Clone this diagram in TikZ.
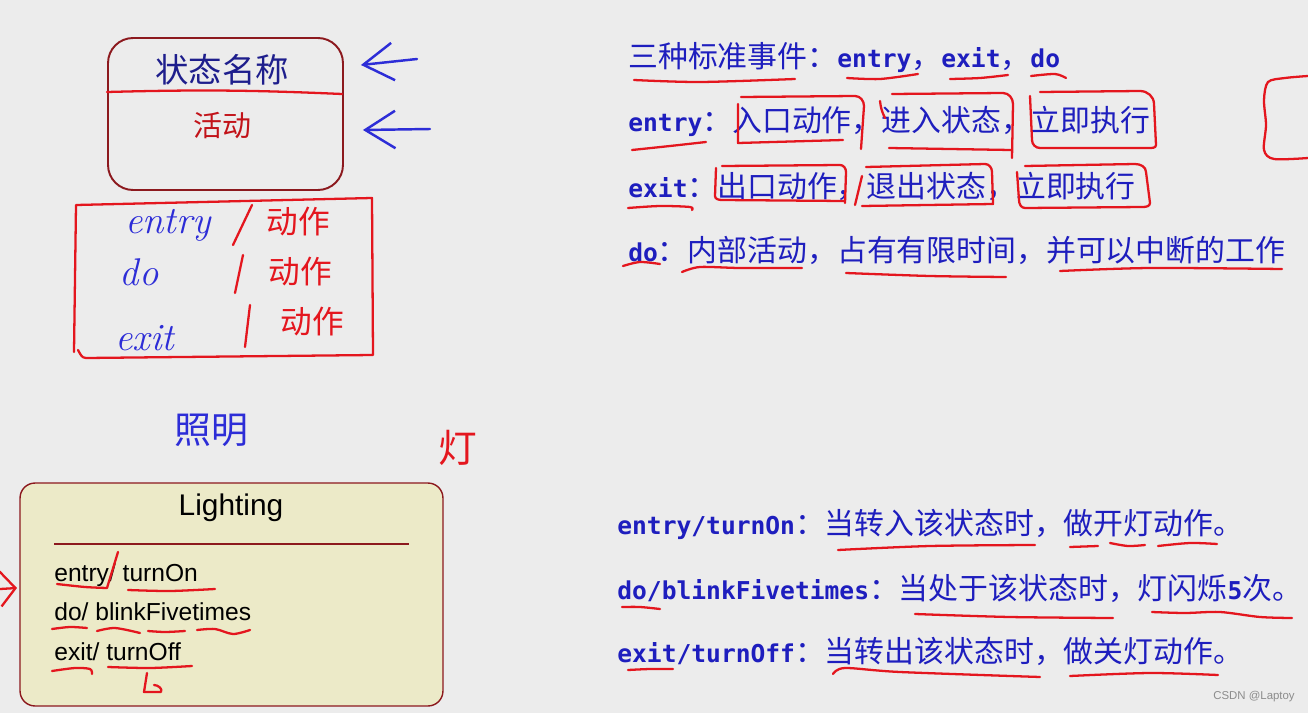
\documentclass[tikz,border=0pt]{standalone}
\usepackage{fontspec}
\usepackage{xcolor}
\usepackage{tikz}
\usetikzlibrary{arrows.meta,positioning,calc}
\newfontfamily\cjk{Noto Sans CJK SC}
\newfontfamily\kwfont{DejaVu Sans Mono}
\newfontfamily\uifont{Liberation Sans}
\definecolor{bg}{RGB}{236,236,236}
\definecolor{inkblue}{RGB}{30,30,190}
\definecolor{navy}{RGB}{30,30,140}
\definecolor{penred}{RGB}{228,22,30}
\definecolor{penblue}{RGB}{45,45,215}
\definecolor{boxred}{RGB}{140,25,30}
\definecolor{litefill}{RGB}{236,234,200}
\newcommand{\kw}[1]{{\kwfont\bfseries\fontsize{14}{16}\selectfont #1}}

\begin{document}
\begin{tikzpicture}[
  x=0.02cm, y=-0.02cm,
  say/.style={anchor=base west,inner sep=0pt,text=inkblue,
              font=\cjk\fontsize{17}{20}\selectfont},
  statebox/.style={draw=boxred,line width=1.1pt,rounded corners=0.5cm,
                   minimum width=4.7cm,minimum height=3.04cm,inner sep=0pt},
  litebox/.style={draw=boxred,line width=0.8pt,fill=litefill,rounded corners=0.3cm,
                  minimum width=8.46cm,minimum height=4.46cm,inner sep=0pt},
  lite/.style={anchor=base west,inner sep=0pt,font=\uifont\fontsize{14}{16}\selectfont},
  hand/.style={inner sep=0pt,text=penblue,font=\itshape\fontsize{22}{24}\selectfont},
  handcn/.style={inner sep=0pt,text=penred,font=\cjk\fontsize{18}{20}\selectfont},
  pen/.style={draw=penred,line width=1.3pt,line cap=round,line join=round},
  bluepen/.style={draw=penblue,line width=1.4pt,line cap=round,
                  -{Straight Barb[length=6mm,width=7.5mm]}}
]
\fill[bg] (0,0) rectangle (1308,713);
\useasboundingbox (0,0) rectangle (1308,713);

% state symbol
\node[statebox] (state) at (225.5,114) {};
\node[inner sep=0pt,text=navy,font=\cjk\fontsize{19}{21}\selectfont] (title) at (222,70) {状态名称};
\node[inner sep=0pt,text=penred!85!black,font=\cjk\fontsize{16.5}{18}\selectfont] (act) at (222,126) {活动};
\draw[pen] (107,92) to[bend left=2] (342,94);
\coordinate (tailA) at (417,59);
\coordinate (tailB) at (430,129);
\draw[bluepen] (tailA) -- ($(title.east -| state.east)+(17,-5)$);
\draw[bluepen] (tailB) -- ($(act.east -| state.east)+(19,4)$);

% handwritten notes
\draw[pen] (74,352) -- (76,205) -- (372,198) -- (373,355) -- (86,358) to[out=180,in=-60] (78,350);
\node[hand] (hEn) at (168,225) {entry};
\node[hand] (hDo) at (139,272) {do};
\node[hand] (hEx) at (145,338) {exit};
\draw[pen] (233,245) -- (252,205);
\draw[pen] (235,293) -- (243,255);
\draw[pen] (245,347) -- (250,305);
\node[handcn] (hA1) at (298,222) {动作};
\node[handcn] (hA2) at (300,272) {动作};
\node[handcn] (hA3) at (312,322) {动作};
\node[hand,font=\cjk\fontsize{21}{24}\selectfont] (zm) at (211,430) {照明};
\node[handcn,font=\cjk\fontsize{22}{24}\selectfont] (deng) at (458,448) {灯};

% Lighting state
\node[litebox] (light) at (231.5,594.5) {};
\node[anchor=base,inner sep=0pt,font=\uifont\fontsize{17}{20}\selectfont] (lname) at (231,515) {Lighting};
\draw[boxred,line width=0.6pt] (54,544) -- (409,544);
\node[lite] (lOn) at (54,581) {entry/ turnOn};
\node[lite] (lDo) at (54,620) {do/ blinkFivetimes};
\node[lite] (lOff) at (54,660) {exit/ turnOff};
\draw[pen,-{Straight Barb[length=3mm,width=7mm]}] (0,589) -- (17,588);
\draw[pen] plot[smooth] coordinates {(57,584) (85,587) (107,588)} -- (118,552);
\draw[pen] plot[smooth] coordinates {(128,590) (170,591) (215,589)};
\draw[pen] plot[smooth] coordinates {(52,629) (70,627) (87,628)};
\draw[pen] plot[smooth] coordinates {(97,631) (115,628) (140,633)};
\draw[pen] plot[smooth] coordinates {(148,631) (165,632) (185,631)};
\draw[pen] plot[smooth] coordinates {(197,630) (215,629) (233,634) (250,630)};
\draw[pen] plot[smooth] coordinates {(52,671) (75,668) (90,669) (92,674)};
\draw[pen] plot[smooth] coordinates {(108,667) (150,668) (192,666)};
\draw[pen] (147,673) -- (144,692) -- (161,692) to[out=60,in=0] (154,685);

% standard events
\node[say] (ev) at (628,68) {三种标准事件：\kw{entry}，\kw{exit}，\kw{do}};
\node[say] (en) at (628,132) {\kw{entry}：入口动作，进入状态，立即执行};
\node[say] (ex) at (628,197) {\kw{exit}：出口动作，退出状态，立即执行};
\node[say] (dd) at (628,261) {\kw{do}：内部活动，占有有限时间，并可以中断的工作};
\draw[pen] plot[smooth] coordinates {(634,80) (700,82) (795,79)};
\draw[pen] plot[smooth] coordinates {(847,78) (880,79) (918,74)};
\draw[pen] plot[smooth] coordinates {(950,79) (980,78) (1008,75)};
\draw[pen] plot[smooth] coordinates {(1031,76) (1055,74) (1066,78)};
\draw[pen] plot[smooth] coordinates {(632,150) (670,146) (706,142)};
\draw[pen] (741,97) -- (855,96) to[out=0,in=90] (864,106) -- (861,149);
\draw[pen] (738,104) -- (738,143) -- (843,140);
\draw[pen] (880,101) to[bend right=10] (885,118);
\draw[pen] (892,94) -- (1003,93) to[out=0,in=90] (1013,104) -- (1012,158);
\draw[pen] (889,148) -- (1011,150);
\draw[pen] (1040,92) -- (1140,91) to[out=0,in=90] (1154,104) -- (1156,145)
  to[out=-90,in=0] (1148,148) -- (1040,148) to[out=180,in=-90] (1032,140) -- (1030,96);
\draw[pen] plot[smooth] coordinates {(1308,76) (1285,78) (1268,82) (1264,100) (1266,125) (1264,150) (1274,159) (1308,158)};
\draw[pen] plot[smooth] coordinates {(628,208) (660,206) (690,207) (692,210)};
\draw[pen] (722,166) -- (840,165) to[out=0,in=90] (846,172) -- (845,203);
\draw[pen] (716,168) -- (715,196) to[out=-90,in=180] (722,200) -- (844,201);
\draw[pen] (855,205) -- (862,176);
\draw[pen] (866,167) -- (985,164) to[out=0,in=90] (992,172) -- (993,204) -- (862,206);
\draw[pen] (1025,166) -- (1135,164) to[out=0,in=90] (1146,172) -- (1150,203)
  to[out=-90,in=0] (1143,207) -- (1025,208) to[out=180,in=-90] (1019,200) -- (1017,172);
\draw[pen] plot[smooth] coordinates {(623,266) (640,262) (660,264)};
\draw[pen] plot[smooth] coordinates {(682,272) (700,267) (740,268) (802,268)};
\draw[pen] plot[smooth] coordinates {(846,273) (930,276) (1006,277)};
\draw[pen] plot[smooth] coordinates {(1060,271) (1150,268) (1282,269)};

% Lighting explained
\node[say] (on) at (617,534) {\kw{entry/turnOn}：当转入该状态时，做开灯动作。};
\node[say] (bl) at (617,599) {\kw{do/blinkFivetimes}：当处于该状态时，灯闪烁\kw{5}次。};
\node[say] (off) at (617,662) {\kw{exit/turnOff}：当转出该状态时，做关灯动作。};
\draw[pen] plot[smooth] coordinates {(838,550) (930,546) (1035,545)};
\draw[pen] plot[smooth] coordinates {(1070,547) (1098,546)};
\draw[pen] plot[smooth] coordinates {(1110,543) (1128,546) (1145,545)};
\draw[pen] plot[smooth] coordinates {(1158,546) (1190,543) (1217,544)};
\draw[pen] plot[smooth] coordinates {(622,607) (640,607) (660,609)};
\draw[pen] plot[smooth] coordinates {(915,614) (1010,617) (1113,618)};
\draw[pen] plot[smooth] coordinates {(1152,612) (1185,613) (1220,612) (1260,617) (1292,618)};
\draw[pen] plot[smooth] coordinates {(628,670) (650,669) (673,669)};
\draw[pen] plot[smooth] coordinates {(833,674) (845,668) (900,672) (1040,677)};
\draw[pen] plot[smooth] coordinates {(1070,676) (1150,673) (1218,675)};

\node[inner sep=0pt,text=black!45,font=\uifont\fontsize{6.5}{8}\selectfont] (mark) at (1254,697) {CSDN @Laptoy};
\end{tikzpicture}
\end{document}
